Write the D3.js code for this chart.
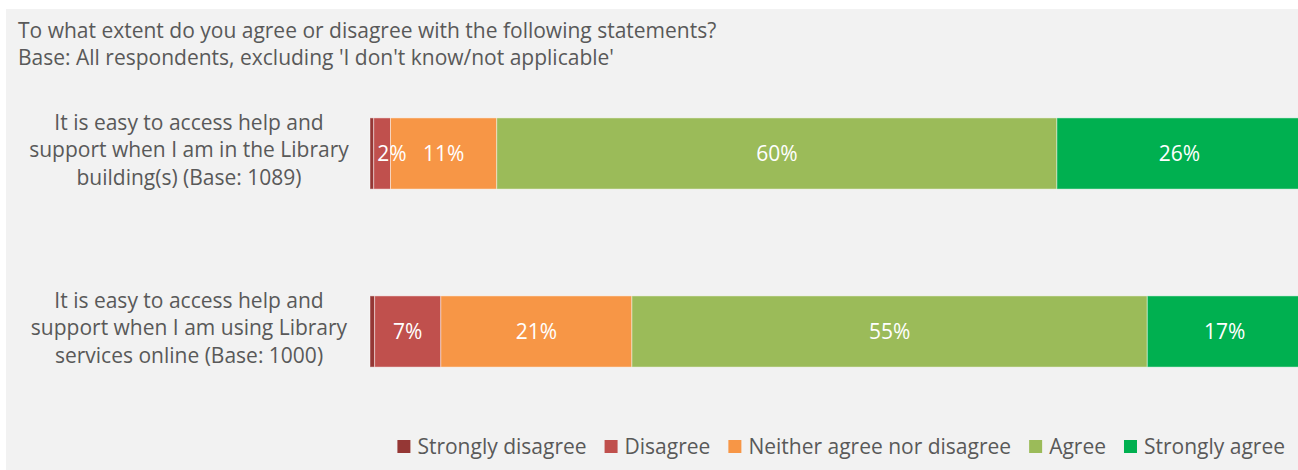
<!DOCTYPE html>
<html>
<head>
<meta charset="utf-8">
<script src="https://cdn.jsdelivr.net/npm/d3@7"></script>
<style>
    body { margin: 0; background: #ffffff; }
    svg { display: block; font-family: 'Open Sans', 'Lato', sans-serif; }
</style>
</head>
<body>
<svg id="chart" width="1298" height="470"></svg>
<script>
// Statements (one label per row, split into lines).
const statements = [
    ['It is easy to access help and', 'support when I am in the Library', 'building(s) (Base: 1089)'],
    ['It is easy to access help and', 'support when I am using Library', 'services online (Base: 1000)']
];

// Response categories and colours.
const responses = ['Strongly disagree', 'Disagree', 'Neither agree nor disagree', 'Agree', 'Strongly agree'];
const responseColors = ['#953735', '#c0504d', '#f79646', '#9bbb59', '#00b050'];

// Percentages for each statement, same order as responses.
const buildingValues = [0.4, 1.8, 11.4, 60.1, 26.3];
const onlineValues = [0.5, 7.1, 20.5, 55.3, 16.6];

// Data labels shown on the bars ('' = no label).
const buildingLabels = ['', '2%', '11%', '60%', '26%'];
const onlineLabels = ['', '7%', '21%', '55%', '17%'];

const subtitleLines = [
    'To what extent do you agree or disagree with the following statements?',
    "Base: All respondents, excluding 'I don't know/not applicable'"
];

let svg = d3.select('#chart');
let textColor = '#595959';
let fontSize = 21;

// Grey chart area.
svg.append('rect')
    .attr('x', 6)
    .attr('y', 9)
    .attr('width', 1292)
    .attr('height', 461)
    .attr('fill', '#f2f2f2');

// Subtitle.
svg.append('g')
    .selectAll('text')
    .data(subtitleLines)
    .join('text')
    .attr('x', 18)
    .attr('y', (d, i) => 38 + i * 27)
    .attr('font-size', fontSize)
    .attr('fill', textColor)
    .text(d => d);

// Build rows.
let rows = [
    {key: 'building', lines: statements[0], values: buildingValues, labels: buildingLabels},
    {key: 'online', lines: statements[1], values: onlineValues, labels: onlineLabels}
];

let xScale = d3.scaleLinear()
    .domain([0, 100])
    .range([370, 1302]);

let yScale = d3.scaleBand()
    .domain(rows.map(d => d.key))
    .range([64.5, 420.5])
    .paddingInner(0.6)
    .paddingOuter(0.3);

let colorScale = d3.scaleOrdinal()
    .domain(responses)
    .range(responseColors);

// Turn each row into segments with a running start.
let segments = [];
rows.forEach(function(row) {
    let start = 0;
    row.values.forEach(function(v, i) {
        segments.push({row: row.key, response: responses[i], x0: start, x1: start + v, label: row.labels[i]});
        start += v;
    });
});

let gBars = svg.append('g').attr('id', 'g-bars');

gBars.selectAll('rect')
    .data(segments)
    .join('rect')
    .attr('x', d => xScale(d.x0))
    .attr('y', d => yScale(d.row))
    .attr('width', d => xScale(d.x1) - xScale(d.x0))
    .attr('height', yScale.bandwidth())
    .attr('fill', d => colorScale(d.response))
    .attr('stroke', 'rgba(255,255,255,0.45)')
    .attr('stroke-width', 1);

// Data labels.
gBars.selectAll('text')
    .data(segments.filter(d => d.label !== ''))
    .join('text')
    .attr('x', function(d) {
        let mid = (xScale(d.x0) + xScale(d.x1)) / 2;
        // Small segments: keep label clear of the bar start (as in Excel).
        return Math.max(mid, xScale(0) + 22);
    })
    .attr('y', d => yScale(d.row) + yScale.bandwidth() / 2 + 7.5)
    .attr('text-anchor', 'middle')
    .attr('font-size', fontSize)
    .attr('fill', '#ffffff')
    .text(d => d.label);

// Category labels.
let gLabels = svg.append('g').attr('id', 'g-labels');
rows.forEach(function(row) {
    let center = yScale(row.key) + yScale.bandwidth() / 2;
    gLabels.append('g')
        .selectAll('text')
        .data(row.lines)
        .join('text')
        .attr('x', 189)
        .attr('y', (d, i) => center - 24 + i * 27.75)
        .attr('text-anchor', 'middle')
        .attr('font-size', fontSize)
        .attr('fill', textColor)
        .text(d => d);
});

// Legend, laid out from measured text widths and right aligned.
let gLegend = svg.append('g').attr('id', 'g-legend');
let items = gLegend.selectAll('g')
    .data(responses)
    .join('g');

items.append('rect')
    .attr('y', 440)
    .attr('width', 13)
    .attr('height', 13)
    .attr('fill', d => colorScale(d));

items.append('text')
    .attr('x', 20)
    .attr('y', 454)
    .attr('font-size', fontSize)
    .attr('fill', textColor)
    .text(d => d);

let widths = [];
items.each(function() {
    widths.push(20 + d3.select(this).select('text').node().getComputedTextLength());
});
let gap = 18;
let total = d3.sum(widths) + gap * (widths.length - 1);
let xPos = 1285 - total;
items.attr('transform', function(d, i) {
    let t = 'translate(' + xPos + ',0)';
    xPos += widths[i] + gap;
    return t;
});
</script>
</body>
</html>
